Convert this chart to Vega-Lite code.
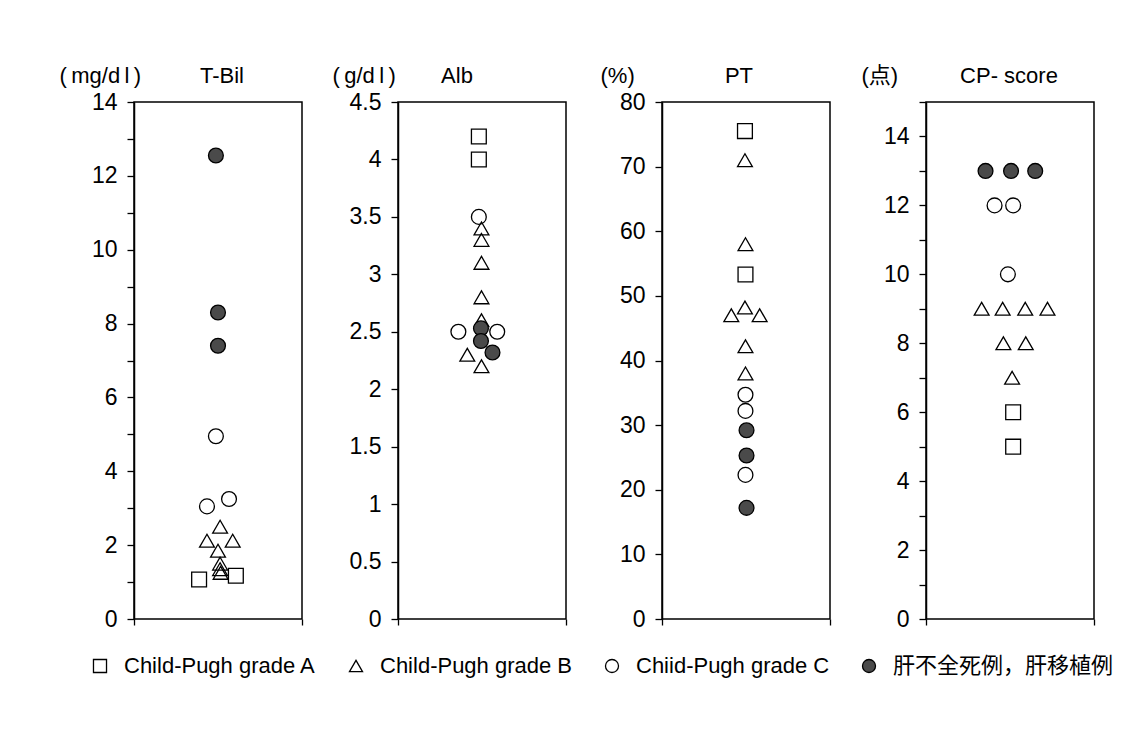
{
  "$schema": "https://vega.github.io/schema/vega-lite/v6.json",
  "padding": {"left": 58, "top": 63, "right": 5, "bottom": 5},
  "background": "white",
  "bounds": "flush",
  "spacing": 96,
  "datasets": {
    "pts": [
      {"panel": "T-Bil", "value": 12.55, "slot": -0.2, "group": "肝不全死例，肝移植例"},
      {"panel": "T-Bil", "value": 8.3, "slot": 0, "group": "肝不全死例，肝移植例"},
      {"panel": "T-Bil", "value": 7.4, "slot": 0, "group": "肝不全死例，肝移植例"},
      {"panel": "T-Bil", "value": 4.95, "slot": -0.2, "group": "Chiid-Pugh grade C"},
      {"panel": "T-Bil", "value": 3.05, "slot": -1.05, "group": "Chiid-Pugh grade C"},
      {"panel": "T-Bil", "value": 3.25, "slot": 1.05, "group": "Chiid-Pugh grade C"},
      {"panel": "T-Bil", "value": 2.5, "slot": 0.2, "group": "Child-Pugh grade B"},
      {"panel": "T-Bil", "value": 2.12, "slot": -1.05, "group": "Child-Pugh grade B"},
      {"panel": "T-Bil", "value": 2.12, "slot": 1.4, "group": "Child-Pugh grade B"},
      {"panel": "T-Bil", "value": 1.85, "slot": 0, "group": "Child-Pugh grade B"},
      {"panel": "T-Bil", "value": 1.5, "slot": 0.2, "group": "Child-Pugh grade B"},
      {"panel": "T-Bil", "value": 1.35, "slot": 0.2, "group": "Child-Pugh grade B"},
      {"panel": "T-Bil", "value": 1.25, "slot": 0.25, "group": "Child-Pugh grade B"},
      {"panel": "T-Bil", "value": 1.07, "slot": -1.8, "group": "Child-Pugh grade A"},
      {"panel": "T-Bil", "value": 1.17, "slot": 1.7, "group": "Child-Pugh grade A"},

      {"panel": "Alb", "value": 4.2, "slot": -0.3, "group": "Child-Pugh grade A"},
      {"panel": "Alb", "value": 4.0, "slot": -0.3, "group": "Child-Pugh grade A"},
      {"panel": "Alb", "value": 3.5, "slot": -0.3, "group": "Chiid-Pugh grade C"},
      {"panel": "Alb", "value": 2.5, "slot": -2.25, "group": "Chiid-Pugh grade C"},
      {"panel": "Alb", "value": 2.5, "slot": 1.45, "group": "Chiid-Pugh grade C"},
      {"panel": "Alb", "value": 3.4, "slot": -0.05, "group": "Child-Pugh grade B"},
      {"panel": "Alb", "value": 3.3, "slot": -0.05, "group": "Child-Pugh grade B"},
      {"panel": "Alb", "value": 3.1, "slot": -0.05, "group": "Child-Pugh grade B"},
      {"panel": "Alb", "value": 2.8, "slot": -0.05, "group": "Child-Pugh grade B"},
      {"panel": "Alb", "value": 2.6, "slot": -0.05, "group": "Child-Pugh grade B"},
      {"panel": "Alb", "value": 2.3, "slot": -1.4, "group": "Child-Pugh grade B"},
      {"panel": "Alb", "value": 2.2, "slot": -0.05, "group": "Child-Pugh grade B"},
      {"panel": "Alb", "value": 2.53, "slot": -0.1, "group": "肝不全死例，肝移植例"},
      {"panel": "Alb", "value": 2.42, "slot": -0.1, "group": "肝不全死例，肝移植例"},
      {"panel": "Alb", "value": 2.32, "slot": 1.0, "group": "肝不全死例，肝移植例"},

      {"panel": "PT", "value": 75.5, "slot": -0.1, "group": "Child-Pugh grade A"},
      {"panel": "PT", "value": 53.3, "slot": -0.05, "group": "Child-Pugh grade A"},
      {"panel": "PT", "value": 71, "slot": -0.1, "group": "Child-Pugh grade B"},
      {"panel": "PT", "value": 58, "slot": -0.05, "group": "Child-Pugh grade B"},
      {"panel": "PT", "value": 48.2, "slot": -0.1, "group": "Child-Pugh grade B"},
      {"panel": "PT", "value": 47, "slot": -1.4, "group": "Child-Pugh grade B"},
      {"panel": "PT", "value": 47, "slot": 1.3, "group": "Child-Pugh grade B"},
      {"panel": "PT", "value": 42.2, "slot": -0.05, "group": "Child-Pugh grade B"},
      {"panel": "PT", "value": 38, "slot": -0.05, "group": "Child-Pugh grade B"},
      {"panel": "PT", "value": 34.7, "slot": -0.05, "group": "Chiid-Pugh grade C"},
      {"panel": "PT", "value": 32.2, "slot": -0.05, "group": "Chiid-Pugh grade C"},
      {"panel": "PT", "value": 22.3, "slot": -0.05, "group": "Chiid-Pugh grade C"},
      {"panel": "PT", "value": 29.2, "slot": 0.05, "group": "肝不全死例，肝移植例"},
      {"panel": "PT", "value": 25.3, "slot": 0.05, "group": "肝不全死例，肝移植例"},
      {"panel": "PT", "value": 17.2, "slot": 0.05, "group": "肝不全死例，肝移植例"},

      {"panel": "CP", "value": 13, "slot": -2.33, "group": "肝不全死例，肝移植例"},
      {"panel": "CP", "value": 13, "slot": 0.1, "group": "肝不全死例，肝移植例"},
      {"panel": "CP", "value": 13, "slot": 2.4, "group": "肝不全死例，肝移植例"},
      {"panel": "CP", "value": 12, "slot": -1.47, "group": "Chiid-Pugh grade C"},
      {"panel": "CP", "value": 12, "slot": 0.3, "group": "Chiid-Pugh grade C"},
      {"panel": "CP", "value": 10, "slot": -0.2, "group": "Chiid-Pugh grade C"},
      {"panel": "CP", "value": 9, "slot": -2.7, "group": "Child-Pugh grade B"},
      {"panel": "CP", "value": 9, "slot": -0.7, "group": "Child-Pugh grade B"},
      {"panel": "CP", "value": 9, "slot": 1.45, "group": "Child-Pugh grade B"},
      {"panel": "CP", "value": 9, "slot": 3.57, "group": "Child-Pugh grade B"},
      {"panel": "CP", "value": 8, "slot": -0.63, "group": "Child-Pugh grade B"},
      {"panel": "CP", "value": 8, "slot": 1.5, "group": "Child-Pugh grade B"},
      {"panel": "CP", "value": 7, "slot": 0.2, "group": "Child-Pugh grade B"},
      {"panel": "CP", "value": 6, "slot": 0.3, "group": "Child-Pugh grade A"},
      {"panel": "CP", "value": 5, "slot": 0.3, "group": "Child-Pugh grade A"}
    ]
  },
  "data": {"name": "pts"},
  "hconcat": [
    {
      "width": 168, "height": 517,
      "title": {"text": "T-Bil", "dx": 4},
      "transform": [{"filter": "datum.panel === 'T-Bil'"}],
      "mark": {"type": "point", "filled": true, "size": 220, "stroke": "black", "strokeWidth": 1.3, "opacity": 1},
      "encoding": {
        "x": {"field": "slot", "type": "quantitative", "scale": {"domain": [-8, 8]}, "axis": {"values": [-8, 8], "labels": false, "domain": false, "tickSize": 6, "title": null}},
        "y": {"field": "value", "type": "quantitative", "scale": {"domain": [0, 14], "nice": false},
              "axis": {"values": [0,1,2,3,4,5,6,7,8,9,10,11,12,13,14], "labelExpr": "datum.value % 2 === 0 ? datum.label : ''", "title": "(\u2009mg/d\u2009l\u2009)", "titleX": -75}},
        "shape": {"field": "group", "type": "nominal", "scale": {"domain": ["Child-Pugh grade A", "Child-Pugh grade B", "Chiid-Pugh grade C", "肝不全死例，肝移植例"], "range": ["square", "triangle-up", "circle", "circle"]},
                  "legend": {"title": null, "orient": "none", "legendX": -45, "legendY": 553}},
        "color": {"field": "group", "type": "nominal", "scale": {"domain": ["Child-Pugh grade A", "Child-Pugh grade B", "Chiid-Pugh grade C", "肝不全死例，肝移植例"], "range": ["transparent", "transparent", "transparent", "#4a4a4a"]},
                 "legend": {"title": null, "orient": "none", "legendX": -45, "legendY": 553}}
      }
    },
    {
      "width": 168, "height": 517,
      "title": {"text": "Alb", "dx": -25},
      "transform": [{"filter": "datum.panel === 'Alb'"}],
      "mark": {"type": "point", "filled": true, "size": 220, "stroke": "black", "strokeWidth": 1.3, "opacity": 1},
      "encoding": {
        "x": {"field": "slot", "type": "quantitative", "scale": {"domain": [-8, 8]}, "axis": {"values": [-8, 8], "labels": false, "domain": false, "tickSize": 6, "title": null}},
        "y": {"field": "value", "type": "quantitative", "scale": {"domain": [0, 4.5], "nice": false},
              "axis": {"values": [0,0.5,1,1.5,2,2.5,3,3.5,4,4.5], "format": "~g", "title": "(\u2009g/d\u2009l\u2009)", "titleX": -66}},
        "shape": {"field": "group", "type": "nominal"},
        "color": {"field": "group", "type": "nominal"}
      }
    },
    {
      "width": 168, "height": 517,
      "title": {"text": "PT", "dx": -7},
      "transform": [{"filter": "datum.panel === 'PT'"}],
      "mark": {"type": "point", "filled": true, "size": 220, "stroke": "black", "strokeWidth": 1.3, "opacity": 1},
      "encoding": {
        "x": {"field": "slot", "type": "quantitative", "scale": {"domain": [-8, 8]}, "axis": {"values": [-8, 8], "labels": false, "domain": false, "tickSize": 6, "title": null}},
        "y": {"field": "value", "type": "quantitative", "scale": {"domain": [0, 80], "nice": false},
              "axis": {"values": [0,10,20,30,40,50,60,70,80], "title": "(%)", "titleX": -62}},
        "shape": {"field": "group", "type": "nominal"},
        "color": {"field": "group", "type": "nominal"}
      }
    },
    {
      "width": 168, "height": 517,
      "title": {"text": "CP- score", "dx": -1},
      "transform": [{"filter": "datum.panel === 'CP'"}],
      "mark": {"type": "point", "filled": true, "size": 220, "stroke": "black", "strokeWidth": 1.3, "opacity": 1},
      "encoding": {
        "x": {"field": "slot", "type": "quantitative", "scale": {"domain": [-8, 8]}, "axis": {"values": [-8, 8], "labels": false, "domain": false, "tickSize": 6, "title": null}},
        "y": {"field": "value", "type": "quantitative", "scale": {"domain": [0, 15], "nice": false},
              "axis": {"values": [0,1,2,3,4,5,6,7,8,9,10,11,12,13,14,15], "labelExpr": "datum.value % 2 === 0 && datum.value < 15 ? datum.label : ''", "title": "(点)", "titleX": -65}},
        "shape": {"field": "group", "type": "nominal"},
        "color": {"field": "group", "type": "nominal"}
      }
    }
  ],
  "config": {
    "font": "Liberation Sans, Noto Sans CJK JP",
    "view": {"stroke": "black", "strokeWidth": 1.5},
    "axis": {
      "grid": false,
      "domainColor": "black", "domainWidth": 1.5,
      "tickColor": "black", "tickWidth": 1.3, "tickSize": 7,
      "labelColor": "black", "labelFontSize": 23, "labelFont": "Liberation Sans", "labelPadding": 10,
      "titleColor": "black", "titleFontSize": 22, "titleFontWeight": "normal", "titleFont": "Liberation Sans, Noto Sans CJK JP",
      "titleAngle": 0, "titleAlign": "left", "titleBaseline": "middle", "titleY": -27
    },
    "title": {"fontSize": 22, "fontWeight": "normal", "font": "Liberation Sans", "color": "black", "anchor": "middle", "frame": "group", "baseline": "middle", "offset": -24},
    "legend": {
      "direction": "horizontal", "columns": 4,
      "labelFontSize": 22, "labelFont": "Liberation Sans, Noto Sans CJK JP", "labelColor": "black", "labelLimit": 400,
      "symbolSize": 170, "symbolStrokeWidth": 1.3,
      "labelOffset": 13, "columnPadding": 28
    }
  }
}
